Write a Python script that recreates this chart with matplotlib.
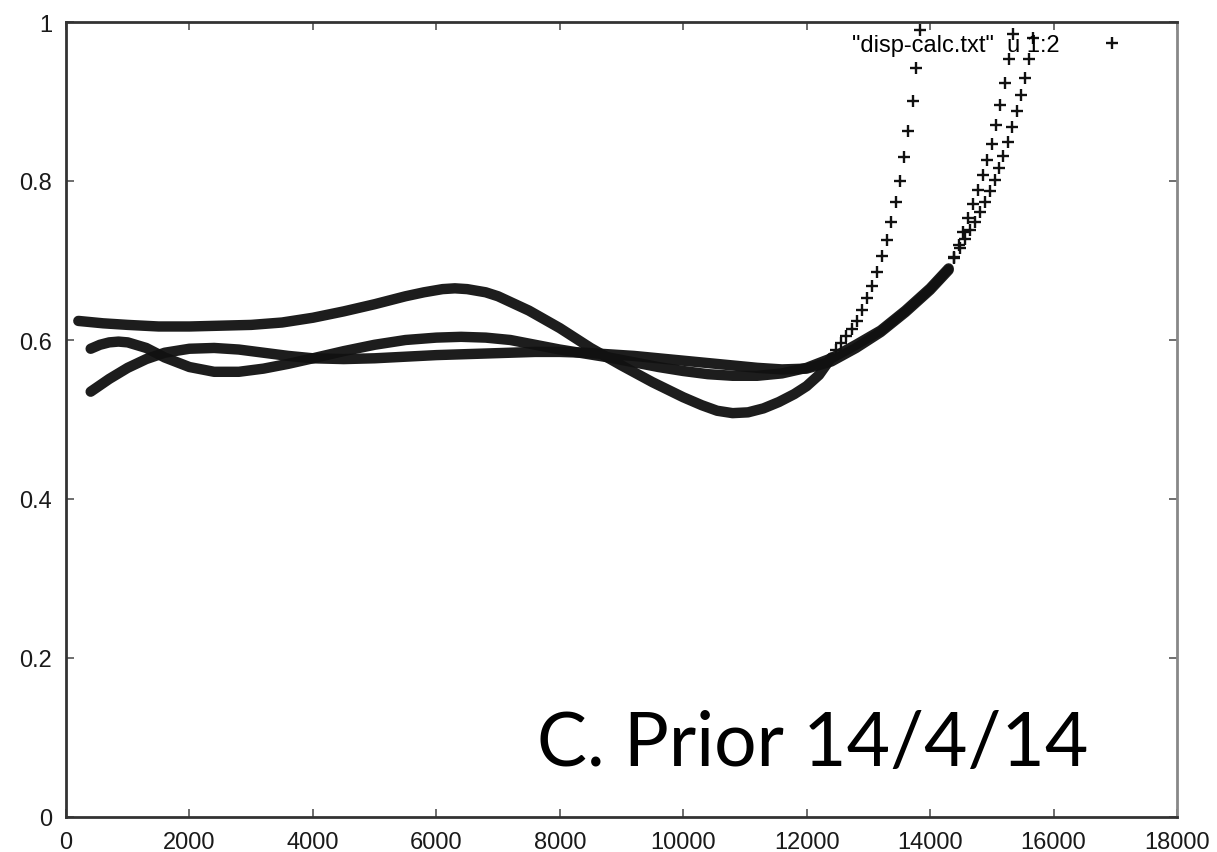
import matplotlib.pyplot as plt
from matplotlib.lines import Line2D

#--- values
x_ticks = [0, 2000, 4000, 6000, 8000, 10000, 12000, 14000, 16000, 18000]
y_ticks = [0, 0.2, 0.4, 0.6, 0.8, 1.0]

#------ curve with the hump at 6300 and the dip at 10800
a_band_x = [200, 600, 1000, 1500, 2000, 2500, 3000, 3500, 4000, 4500, 5000, 5500, 5800, 6100, 6300, 6500, 6800,
            7000, 7500, 8000, 8500, 9000, 9500, 10000, 10300, 10550, 10800, 11050, 11300, 11550, 11800, 12000,
            12200, 12400]
a_band_y = [0.624, 0.621, 0.619, 0.617, 0.617, 0.618, 0.619, 0.622, 0.628, 0.636, 0.645, 0.655, 0.660, 0.664,
            0.665, 0.664, 0.660, 0.655, 0.637, 0.615, 0.590, 0.568, 0.547, 0.528, 0.518, 0.511, 0.508, 0.509,
            0.514, 0.522, 0.532, 0.542, 0.556, 0.578]
a_tail_x = [12480, 12560, 12640, 12730, 12815, 12896, 12977, 13058, 13139, 13220, 13300, 13370, 13445, 13512,
            13577, 13642, 13715, 13775, 13836]
a_tail_y = [0.588, 0.596, 0.605, 0.614, 0.624, 0.638, 0.653, 0.668, 0.686, 0.706, 0.726, 0.748, 0.774, 0.800,
            0.830, 0.863, 0.901, 0.942, 0.990]

#------ wavy curve starting at 0.59
b_band_x = [400, 550, 700, 850, 1000, 1300, 1600, 2000, 2400, 2800, 3200, 3600, 4000, 4500, 5000, 5500, 6000,
            6400, 6800, 7200, 7600, 8000, 8400, 8800, 9200, 9600, 10000, 10400, 10800, 11200, 11600, 12000,
            12400, 12800, 13200, 13600, 14000, 14300]
b_band_y = [0.589, 0.594, 0.597, 0.598, 0.597, 0.590, 0.578, 0.566, 0.560, 0.560, 0.564, 0.570, 0.577, 0.586,
            0.594, 0.600, 0.603, 0.604, 0.603, 0.600, 0.594, 0.588, 0.583, 0.578, 0.572, 0.566, 0.561, 0.557,
            0.555, 0.555, 0.558, 0.565, 0.577, 0.594, 0.612, 0.637, 0.665, 0.690]
b_tail_x = [14390, 14480, 14565, 14650, 14730, 14810, 14890, 14970, 15045, 15115, 15185, 15255, 15330, 15400,
            15465, 15530, 15595, 15660, 15720]
b_tail_y = [0.704, 0.716, 0.727, 0.738, 0.749, 0.761, 0.774, 0.787, 0.801, 0.816, 0.832, 0.849, 0.868, 0.888,
            0.908, 0.930, 0.954, 0.980, 1.008]

#------ curve starting low at 0.53
c_band_x = [400, 700, 1000, 1300, 1600, 2000, 2400, 2800, 3200, 3600, 4000, 4500, 5000, 5500, 6000, 6400, 6800,
            7200, 7600, 8000, 8400, 8800, 9200, 9600, 10000, 10400, 10800, 11200, 11600, 12000, 12400, 12800,
            13200, 13600, 14000, 14300]
c_band_y = [0.535, 0.551, 0.565, 0.576, 0.584, 0.589, 0.590, 0.588, 0.584, 0.580, 0.577, 0.576, 0.577, 0.579,
            0.581, 0.582, 0.583, 0.584, 0.585, 0.585, 0.584, 0.582, 0.580, 0.577, 0.574, 0.571, 0.568, 0.565,
            0.563, 0.564, 0.573, 0.590, 0.610, 0.635, 0.663, 0.688]
c_tail_x = [14380, 14460, 14540, 14615, 14695, 14775, 14855, 14925, 15000, 15070, 15140, 15210, 15275, 15340]
c_tail_y = [0.703, 0.719, 0.736, 0.753, 0.771, 0.789, 0.807, 0.826, 0.847, 0.870, 0.895, 0.923, 0.953, 0.985]

legend_label = '"disp-calc.txt"  u 1:2'
stamp_text = "C. Prior 14/4/14"


def main():
    plt.rcParams['font.family'] = ['Liberation Sans', 'DejaVu Sans']

    fig = plt.figure(figsize=(12.17, 8.53), dpi=100)
    ax = fig.add_axes([66 / 1217, 35 / 853, 1111 / 1217, 795 / 853])

    mk = dict(marker='+', markersize=8, markeredgewidth=1.7, color='#111111', linestyle='none')

    for bx, by, tx, ty in [(a_band_x, a_band_y, a_tail_x, a_tail_y),
                           (b_band_x, b_band_y, b_tail_x, b_tail_y),
                           (c_band_x, c_band_y, c_tail_x, c_tail_y)]:
        #--- dense part of the point cloud reads as a solid band
        ax.plot(bx, by, color='#111111', lw=7.5, solid_capstyle='round', solid_joinstyle='round', alpha=0.95)
        #--- steep part: points stand apart
        ax.plot(tx, ty, **mk)

    ax.set_xlim(0, 18000)
    ax.set_ylim(0, 1)
    ax.set_xticks(x_ticks)
    ax.set_yticks(y_ticks)
    ax.set_xticklabels([str(v) for v in x_ticks])
    ax.set_yticklabels([f"{v:g}" for v in y_ticks])

    ax.tick_params(direction='in', length=6, width=1.2, color='#555555', labelsize=17,
                   top=True, right=True, labelcolor='#1a1a1a')
    ax.tick_params(axis='x', pad=10)
    ax.tick_params(axis='y', pad=10)
    for side in ['left', 'top', 'bottom']:
        ax.spines[side].set_color('#333333')
        ax.spines[side].set_linewidth(2)
    ax.spines['right'].set_color('#888888')
    ax.spines['right'].set_linewidth(2)

    handle = Line2D([], [], marker='+', markersize=8, markeredgewidth=1.7, color='#111111', linestyle='none')
    ax.legend([handle], [legend_label], loc='upper right', bbox_to_anchor=(0.971, 0.997), frameon=False,
              markerfirst=False, fontsize=17, handlelength=2, handletextpad=1.2, borderaxespad=0)

    fig.text(537 / 1217, (853 - 766) / 853, stamp_text, family='Lato', fontsize=54, color='black',
             ha='left', va='baseline')

    plt.savefig("out.png", dpi=100)
    plt.close()

    return


if __name__ == "__main__":
    main()
